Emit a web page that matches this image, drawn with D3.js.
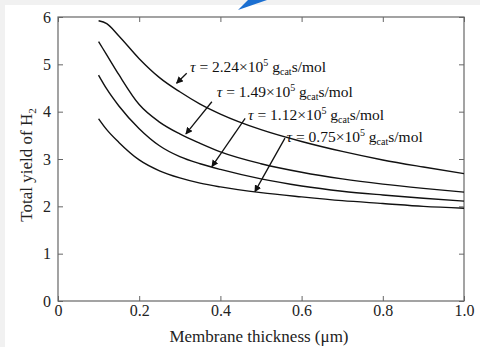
<!DOCTYPE html>
<html>
<head>
<meta charset="utf-8">
<script src="https://cdn.jsdelivr.net/npm/d3@7"></script>
<style>
  body { margin: 0; background: #f1f1f1; }
  svg { display: block; font-family: "Liberation Serif", "Times New Roman", serif; }
</style>
</head>
<body>
<div class="chart"></div>
<script>
var svgWidth = 480;
var svgHeight = 347;
var margin = {top: 17, right: 16, bottom: 46, left: 58};
var width = svgWidth - margin.left - margin.right;
var height = svgHeight - margin.top - margin.bottom;

// membrane thickness (um)
var thickness = [0.10, 0.12, 0.15, 0.20, 0.25, 0.30, 0.35, 0.40, 0.50, 0.60, 0.70, 0.80, 0.90, 1.00];
// total H2 yield per residence time
var tau224 = [5.92, 5.86, 5.60, 5.12, 4.72, 4.42, 4.16, 3.95, 3.62, 3.37, 3.16, 2.98, 2.83, 2.69];
var tau149 = [5.48, 5.20, 4.78, 4.15, 3.78, 3.53, 3.33, 3.15, 2.90, 2.72, 2.58, 2.47, 2.38, 2.30];
var tau112 = [4.77, 4.48, 4.12, 3.64, 3.28, 3.05, 2.90, 2.78, 2.58, 2.43, 2.32, 2.24, 2.17, 2.11];
var tau075 = [3.85, 3.62, 3.35, 2.98, 2.75, 2.60, 2.49, 2.41, 2.29, 2.20, 2.12, 2.06, 2.00, 1.96];

var xTicks = [0, 0.2, 0.4, 0.6, 0.8, 1.0];
var xTickLabels = ["0", "0.2", "0.4", "0.6", "0.8", "1.0"];
var yTicks = [0, 1, 2, 3, 4, 5, 6];

// annotation text and arrow anchors in data units
var tauValues = ["2.24", "1.49", "1.12", "0.75"];
var labelAt = [[0.325, 4.84], [0.391, 4.31], [0.468, 3.82], [0.563, 3.36]];
var arrowFrom = [[0.317, 4.81], [0.379, 4.21], [0.461, 3.86], [0.559, 3.44]];
var arrowTo = [[0.292, 4.60], [0.315, 3.53], [0.379, 2.84], [0.485, 2.31]];

var series = [tau224, tau149, tau112, tau075];

var svg = d3.select(".chart")
    .append("svg")
    .attr("width", svgWidth)
    .attr("height", svgHeight);

svg.append("rect")
    .attr("x", 5).attr("y", 5)
    .attr("width", svgWidth - 5).attr("height", svgHeight - 5)
    .attr("fill", "#ffffff");

// blue decoration at the top
svg.append("path")
    .attr("d", "M238,10 L248,0 L267,0 Z")
    .attr("fill", "#1b6fd1");

var defs = svg.append("defs");
defs.append("marker")
    .attr("id", "head")
    .attr("viewBox", "0 0 10 10")
    .attr("refX", 9).attr("refY", 5)
    .attr("markerWidth", 7).attr("markerHeight", 7)
    .attr("markerUnits", "userSpaceOnUse")
    .attr("orient", "auto")
    .append("path")
    .attr("d", "M0,0 L10,5 L0,10 Z")
    .attr("fill", "#111");

var chartGroup = svg.append("g")
    .attr("transform", "translate(" + margin.left + "," + margin.top + ")");

var xLinearScale = d3.scaleLinear().domain([0, 1]).range([0, width]);
var yLinearScale = d3.scaleLinear().domain([0, 6]).range([height, 0]);

// axes, ticks pointing inward on all four sides
var axisColor = "#666";
function styleAxis(g) {
    g.select(".domain").remove();
    g.selectAll(".tick line").attr("stroke", axisColor);
    g.selectAll(".tick text")
        .attr("fill", "#222")
        .style("font-size", "16px")
        .style("font-family", "Liberation Serif, serif");
}

chartGroup.append("g")
    .attr("transform", "translate(0," + height + ")")
    .call(d3.axisBottom(xLinearScale).tickValues(xTicks)
        .tickFormat(function(d, i) { return xTickLabels[i]; })
        .tickSizeInner(-5).tickSizeOuter(0).tickPadding(4))
    .call(styleAxis);

chartGroup.append("g")
    .call(d3.axisTop(xLinearScale).tickValues(xTicks).tickFormat("")
        .tickSizeInner(-5).tickSizeOuter(0))
    .call(styleAxis);

chartGroup.append("g")
    .call(d3.axisLeft(yLinearScale).tickValues(yTicks).tickFormat(d3.format("d"))
        .tickSizeInner(-5).tickSizeOuter(0).tickPadding(7))
    .call(styleAxis);

chartGroup.append("g")
    .attr("transform", "translate(" + width + ",0)")
    .call(d3.axisRight(yLinearScale).tickValues(yTicks).tickFormat("")
        .tickSizeInner(-5).tickSizeOuter(0))
    .call(styleAxis);

chartGroup.append("rect")
    .attr("width", width).attr("height", height)
    .attr("fill", "none")
    .attr("stroke", axisColor)
    .attr("stroke-width", 1.2);

// curves
var line = d3.line()
    .x(function(d, i) { return xLinearScale(thickness[i]); })
    .y(function(d) { return yLinearScale(d); })
    .curve(d3.curveMonotoneX);

chartGroup.selectAll(".curve")
    .data(series)
    .enter()
    .append("path")
    .attr("class", "curve")
    .attr("d", line)
    .attr("fill", "none")
    .attr("stroke", "#111")
    .attr("stroke-width", 1.4);

// arrows
chartGroup.selectAll(".arrow")
    .data(tauValues)
    .enter()
    .append("line")
    .attr("class", "arrow")
    .attr("x1", function(d, i) { return xLinearScale(arrowFrom[i][0]); })
    .attr("y1", function(d, i) { return yLinearScale(arrowFrom[i][1]); })
    .attr("x2", function(d, i) { return xLinearScale(arrowTo[i][0]); })
    .attr("y2", function(d, i) { return yLinearScale(arrowTo[i][1]); })
    .attr("stroke", "#111")
    .attr("stroke-width", 1.3)
    .attr("marker-end", "url(#head)");

// labels
var labels = chartGroup.selectAll(".tauLabel")
    .data(tauValues)
    .enter()
    .append("text")
    .attr("class", "tauLabel")
    .attr("x", function(d, i) { return xLinearScale(labelAt[i][0]); })
    .attr("y", function(d, i) { return yLinearScale(labelAt[i][1]); })
    .attr("fill", "#111")
    .style("font-size", "15.5px");

labels.append("tspan").style("font-style", "italic").text("\u03c4");
labels.append("tspan").text(function(d) { return " = " + d + "\u00d710"; });
labels.append("tspan").attr("dy", -6).style("font-size", "10px").text("5");
labels.append("tspan").attr("dy", 6).text(" g");
labels.append("tspan").attr("dy", 3).style("font-size", "10px").text("cat");
labels.append("tspan").attr("dy", -3).text("s/mol");

// axis titles
chartGroup.append("text")
    .attr("x", width / 2 - 2)
    .attr("y", height + 41)
    .attr("text-anchor", "middle")
    .attr("fill", "#222")
    .style("font-size", "17px")
    .text("Membrane thickness (\u03bcm)");

var yTitle = chartGroup.append("text")
    .attr("transform", "rotate(-90)")
    .attr("x", 0 - 148)
    .attr("y", 0 - margin.left + 32)
    .attr("text-anchor", "middle")
    .attr("fill", "#222")
    .style("font-size", "17px");
yTitle.append("tspan").text("Total yield of H");
yTitle.append("tspan").attr("dy", 4).style("font-size", "11px").text("2");
</script>
</body>
</html>
